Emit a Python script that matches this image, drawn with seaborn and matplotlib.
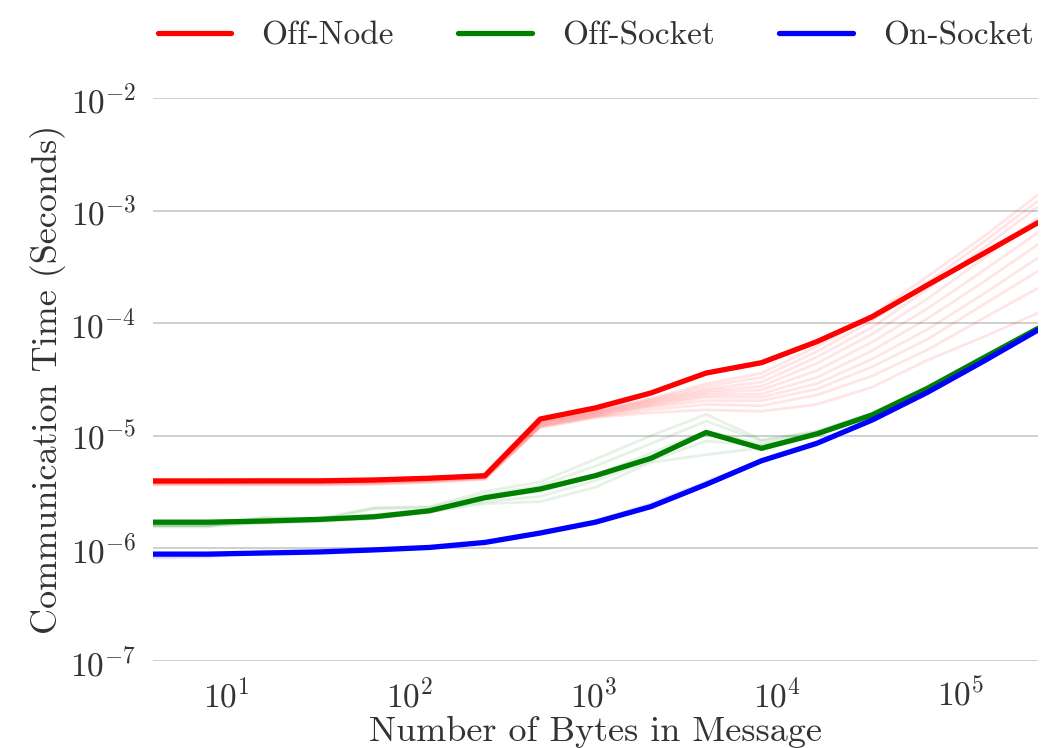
import matplotlib
matplotlib.use("Agg")
import matplotlib.pyplot as plt
import seaborn as sns

# ---------------- data ----------------
msg_bytes = [4, 8, 16, 32, 64, 128, 256, 512, 1024, 2048, 4096, 8192,
             16384, 32768, 65536, 131072, 262144]

series_names = ["Off-Node", "Off-Socket", "On-Socket"]

off_node = [3.97e-6, 3.97e-6, 3.98e-6, 3.98e-6, 4.05e-6, 4.2e-6, 4.42e-6, 1.41e-5,
            1.77e-5, 2.4e-5, 3.61e-5, 4.46e-5, 6.85e-5, 1.14e-4, 2.18e-4, 4.12e-4, 7.82e-4]
off_socket = [1.71e-6, 1.71e-6, 1.75e-6, 1.81e-6, 1.91e-6, 2.16e-6, 2.82e-6, 3.37e-6,
              4.43e-6, 6.31e-6, 1.07e-5, 7.74e-6, 1.04e-5, 1.53e-5, 2.64e-5, 4.88e-5, 9.0e-5]
on_socket = [8.9e-7, 8.9e-7, 9.1e-7, 9.3e-7, 9.7e-7, 1.02e-6, 1.13e-6, 1.37e-6,
             1.71e-6, 2.35e-6, 3.7e-6, 6.0e-6, 8.57e-6, 1.38e-5, 2.43e-5, 4.55e-5, 8.7e-5]

# faint individual runs
off_node_run1 = [4.1e-6, 4.1e-6, 4.1e-6, 4.1e-6, 4.15e-6, 4.3e-6, 4.6e-6, 1.36e-5, 1.68e-5, 2.15e-5, 2.9e-5, 3.6e-5, 6.2e-5, 1.18e-4, 2.6e-4, 5.8e-4, 1.38e-3]
off_node_run2 = [4.05e-6, 4.05e-6, 4.05e-6, 4.05e-6, 4.1e-6, 4.25e-6, 4.5e-6, 1.33e-5, 1.64e-5, 2.1e-5, 2.75e-5, 3.3e-5, 5.6e-5, 1.05e-4, 2.3e-4, 5.2e-4, 1.22e-3]
off_node_run3 = [4.0e-6, 4.0e-6, 4.0e-6, 4.0e-6, 4.05e-6, 4.2e-6, 4.45e-6, 1.32e-5, 1.62e-5, 2.05e-5, 2.6e-5, 3.0e-5, 5.0e-5, 9.2e-5, 2.0e-4, 4.6e-4, 1.08e-3]
off_node_run4 = [3.95e-6, 3.95e-6, 3.95e-6, 3.95e-6, 4.0e-6, 4.15e-6, 4.4e-6, 1.3e-5, 1.6e-5, 2.0e-5, 2.5e-5, 2.75e-5, 4.4e-5, 8.0e-5, 1.65e-4, 3.7e-4, 8.6e-4]
off_node_run5 = [3.9e-6, 3.9e-6, 3.9e-6, 3.9e-6, 3.95e-6, 4.1e-6, 4.35e-6, 1.28e-5, 1.57e-5, 1.95e-5, 2.4e-5, 2.55e-5, 3.8e-5, 6.8e-5, 1.35e-4, 2.9e-4, 6.4e-4]
off_node_run6 = [3.85e-6, 3.85e-6, 3.85e-6, 3.85e-6, 3.9e-6, 4.05e-6, 4.3e-6, 1.26e-5, 1.55e-5, 1.9e-5, 2.3e-5, 2.35e-5, 3.3e-5, 5.7e-5, 1.1e-4, 2.3e-4, 5.0e-4]
off_node_run7 = [3.8e-6, 3.8e-6, 3.8e-6, 3.8e-6, 3.85e-6, 4.0e-6, 4.25e-6, 1.24e-5, 1.52e-5, 1.85e-5, 2.2e-5, 2.2e-5, 2.9e-5, 4.8e-5, 8.8e-5, 1.8e-4, 3.8e-4]
off_node_run8 = [3.75e-6, 3.75e-6, 3.75e-6, 3.75e-6, 3.8e-6, 3.95e-6, 4.2e-6, 1.22e-5, 1.5e-5, 1.8e-5, 2.05e-5, 2.05e-5, 2.6e-5, 4.1e-5, 7.2e-5, 1.45e-4, 2.9e-4]
off_node_run9 = [3.7e-6, 3.7e-6, 3.7e-6, 3.7e-6, 3.75e-6, 3.9e-6, 4.15e-6, 1.2e-5, 1.47e-5, 1.7e-5, 1.9e-5, 1.85e-5, 2.3e-5, 3.4e-5, 5.8e-5, 1.1e-4, 2.05e-4]
off_node_run10 = [3.65e-6, 3.65e-6, 3.65e-6, 3.65e-6, 3.7e-6, 3.85e-6, 4.1e-6, 1.18e-5, 1.45e-5, 1.6e-5, 1.7e-5, 1.65e-5, 1.9e-5, 2.7e-5, 4.7e-5, 7.5e-5, 1.23e-4]

off_socket_run1 = [1.58e-6, 1.58e-6, 1.9e-6, 1.85e-6, 2.3e-6, 2.35e-6, 3.2e-6, 3.9e-6, 6.2e-6, 1.0e-5, 1.55e-5, 9.2e-6, 1.1e-5, 1.6e-5, 2.7e-5, 4.9e-5, 9.0e-5]
off_socket_run2 = [1.6e-6, 1.6e-6, 1.85e-6, 1.8e-6, 2.25e-6, 2.3e-6, 3.0e-6, 3.6e-6, 5.4e-6, 8.5e-6, 1.35e-5, 9.0e-6, 1.08e-5, 1.58e-5, 2.68e-5, 4.9e-5, 9.0e-5]
off_socket_run3 = [1.55e-6, 1.55e-6, 1.7e-6, 1.75e-6, 2.0e-6, 2.2e-6, 2.8e-6, 3.2e-6, 4.5e-6, 7.0e-6, 1.1e-5, 8.5e-6, 1.05e-5, 1.55e-5, 2.65e-5, 4.85e-5, 9.0e-5]
off_socket_run4 = [1.6e-6, 1.6e-6, 1.72e-6, 1.78e-6, 1.95e-6, 2.15e-6, 2.6e-6, 2.9e-6, 4.0e-6, 6.0e-6, 9.0e-6, 8.2e-6, 1.03e-5, 1.54e-5, 2.64e-5, 4.85e-5, 8.95e-5]
off_socket_run5 = [1.62e-6, 1.62e-6, 1.68e-6, 1.72e-6, 1.85e-6, 2.1e-6, 2.5e-6, 2.6e-6, 3.5e-6, 5.8e-6, 6.8e-6, 7.8e-6, 1.0e-5, 1.52e-5, 2.62e-5, 4.8e-5, 8.9e-5]

on_socket_run1 = [8.2e-7, 8.4e-7, 9.5e-7, 9.3e-7, 9.6e-7, 1.02e-6, 1.15e-6, 1.4e-6, 1.76e-6, 2.5e-6, 3.9e-6, 6.1e-6, 8.6e-6, 1.38e-5, 2.42e-5, 4.5e-5, 8.6e-5]
on_socket_run2 = [8.5e-7, 8.6e-7, 9.0e-7, 9.2e-7, 9.5e-7, 1.01e-6, 1.12e-6, 1.36e-6, 1.72e-6, 2.42e-6, 3.8e-6, 6.0e-6, 8.5e-6, 1.37e-5, 2.4e-5, 4.5e-5, 8.6e-5]

colors = ["red", "green", "blue"]

# ---------------- style ----------------
sns.set_theme(style="whitegrid", context="poster")
plt.rcParams["font.family"] = ["serif"]
plt.rcParams["font.serif"] = ["cmr10", "DejaVu Serif"]
plt.rcParams["mathtext.fontset"] = "cm"
plt.rcParams["axes.formatter.use_mathtext"] = True
plt.rcParams["axes.unicode_minus"] = False

fig = plt.figure(figsize=(10.63, 7.48), dpi=100)
ax = fig.add_axes([0.144, 0.1163, 0.8325, 0.7527])

faint = [
    (off_node_run1, 0), (off_node_run2, 0), (off_node_run3, 0), (off_node_run4, 0),
    (off_node_run5, 0), (off_node_run6, 0), (off_node_run7, 0), (off_node_run8, 0),
    (off_node_run9, 0), (off_node_run10, 0),
    (off_socket_run1, 1), (off_socket_run2, 1), (off_socket_run3, 1),
    (off_socket_run4, 1), (off_socket_run5, 1),
    (on_socket_run1, 2), (on_socket_run2, 2),
]
for vals, ci in faint:
    sns.lineplot(x=msg_bytes, y=vals, color=colors[ci], alpha=0.1, linewidth=2,
                 ax=ax, legend=False)

for vals, name, col in zip([off_node, off_socket, on_socket], series_names, colors):
    sns.lineplot(x=msg_bytes, y=vals, color=col, linewidth=3.8, label=name, ax=ax)

ax.set_xscale("log")
ax.set_yscale("log")
ax.set_xlim(4, 262144)
ax.set_ylim(1e-7, 1e-2)
ax.grid(axis="x", visible=False)
ax.grid(axis="y", color="#cccccc", linewidth=1.3)
ax.minorticks_off()
sns.despine(ax=ax, left=True, bottom=True)

txt = "#333333"
ax.tick_params(axis="both", labelsize=24, colors=txt, length=0, pad=12)
ax.set_xlabel("Number of Bytes in Message", fontsize=26, color=txt, labelpad=2)
ax.set_ylabel("Communication Time (Seconds)", fontsize=26, color=txt, labelpad=3)

ax.legend(loc="lower center", bbox_to_anchor=(0.5, 1.043), ncol=3, frameon=False,
          fontsize=24, handlelength=2.2, handletextpad=0.9, columnspacing=1.95,
          labelcolor=txt, borderaxespad=0.3)

fig.savefig("out.png", dpi=100)
